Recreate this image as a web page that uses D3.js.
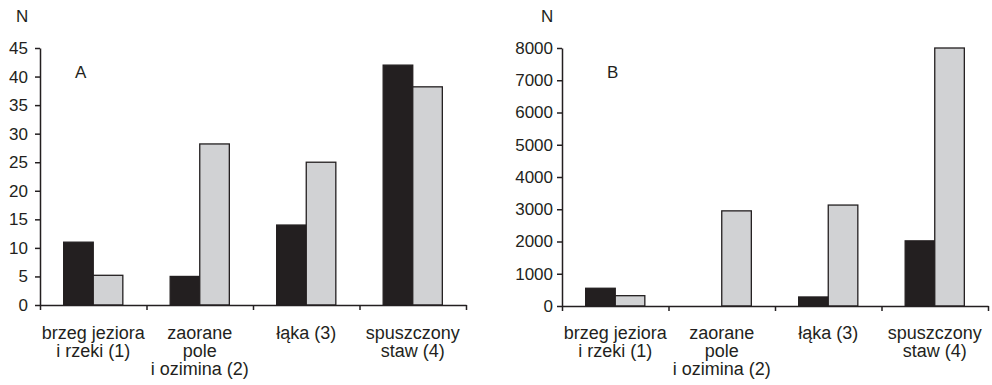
<!DOCTYPE html>
<html>
<head>
<meta charset="utf-8">
<script src="https://cdn.jsdelivr.net/npm/d3@7"></script>
<style>
  body { margin: 0; background: #fff; }
  svg text { font-family: "Liberation Sans", Arial, sans-serif; fill: #231f20; }
  .axis path, .axis line { stroke: #231f20; stroke-width: 1.5; }
</style>
</head>
<body>
<svg id="chart" width="992" height="385"></svg>
<script>
var categories = [
    ["brzeg jeziora", "i rzeki (1)"],
    ["zaorane", "pole", "i ozimina (2)"],
    ["łąka (3)"],
    ["spuszczony", "staw (4)"]
];
var series = ["s1", "s2"];
var valuesA1 = [11, 5, 14, 42];
var valuesA2 = [5.2, 28.2, 25, 38.2];
var valuesB1 = [550, 0, 280, 2020];
var valuesB2 = [320, 2950, 3130, 8000];
var ticksA = [0, 5, 10, 15, 20, 25, 30, 35, 40, 45];
var ticksB = [0, 1000, 2000, 3000, 4000, 5000, 6000, 7000, 8000];

var colors = {s1: "#231f20", s2: "#d1d2d4"};
var svg = d3.select("#chart");

function createPanel(opts) {
    var x = d3.scaleBand()
        .domain(d3.range(categories.length))
        .range([opts.left, opts.right])
        .padding(0);
    var xEdge = d3.scaleLinear()
        .domain([0, categories.length])
        .range([opts.left, opts.right]);
    var xInner = d3.scaleBand()
        .domain(series)
        .range([0, x.bandwidth()])
        .paddingInner(0)
        .paddingOuter(0.8);
    var y = d3.scaleLinear()
        .domain([0, opts.max])
        .range([opts.bottom, opts.top]);

    var g = svg.append("g");

    var data = categories.map(function (c, i) {
        return {i: i, vals: [
            {s: "s1", v: opts.v1[i]},
            {s: "s2", v: opts.v2[i]}
        ]};
    });

    var groups = g.selectAll(".grp")
        .data(data)
        .enter().append("g")
        .attr("transform", function (d) {
            return "translate(" + x(d.i) + ",0)";
        });

    groups.selectAll("rect")
        .data(function (d) { return d.vals; })
        .enter().append("rect")
        .attr("x", function (d) { return xInner(d.s); })
        .attr("width", xInner.bandwidth())
        .attr("y", function (d) { return y(d.v); })
        .attr("height", function (d) { return y(0) - y(d.v); })
        .attr("fill", function (d) { return colors[d.s]; })
        .attr("stroke", function (d) { return d.v > 0 ? "#231f20" : "none"; })
        .attr("stroke-width", 1.3);

    g.append("g")
        .attr("class", "axis")
        .attr("transform", "translate(" + opts.left + ",0)")
        .call(d3.axisLeft(y).tickValues(opts.ticks).tickFormat(d3.format("d"))
            .tickSize(5).tickSizeOuter(0).tickPadding(opts.pad))
        .selectAll("text")
        .style("font-size", "17px");

    g.append("g")
        .attr("class", "axis")
        .attr("transform", "translate(0," + opts.bottom + ")")
        .call(d3.axisBottom(xEdge).tickValues(d3.range(categories.length + 1))
            .tickFormat("").tickSize(5).tickSizeOuter(0));

    g.selectAll(".cat")
        .data(categories)
        .enter().append("text")
        .attr("class", "cat")
        .attr("text-anchor", "middle")
        .style("font-size", "18px")
        .attr("x", function (d, i) { return x(i) + x.bandwidth() / 2; })
        .attr("y", 339)
        .selectAll("tspan")
        .data(function (d) { return d; })
        .enter().append("tspan")
        .attr("x", function () { return d3.select(this.parentNode).attr("x"); })
        .attr("dy", function (d, j) { return j === 0 ? 0 : 18; })
        .text(function (d) { return d; });

    g.append("text")
        .attr("x", opts.nx)
        .attr("y", 22)
        .style("font-size", "17px")
        .text("N");

    g.append("text")
        .attr("x", opts.lx)
        .attr("y", 78)
        .style("font-size", "17px")
        .text(opts.label);
}

createPanel({left: 40, right: 466, top: 48, bottom: 305, max: 45,
    v1: valuesA1, v2: valuesA2, ticks: ticksA, pad: 7, nx: 16, lx: 75, label: "A"});
createPanel({left: 562, right: 988, top: 48, bottom: 306, max: 8000,
    v1: valuesB1, v2: valuesB2, ticks: ticksB, pad: 4, nx: 541, lx: 607, label: "B"});
</script>
</body>
</html>
